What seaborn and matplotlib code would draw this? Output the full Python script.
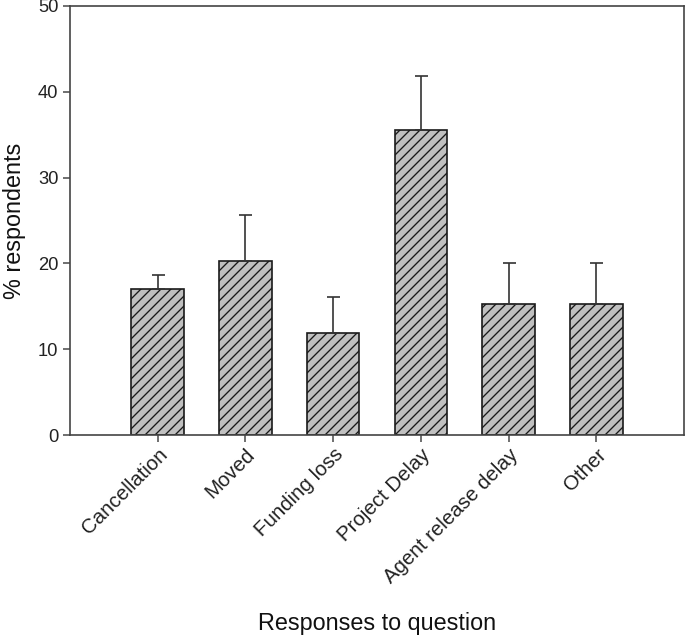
import matplotlib
matplotlib.use("Agg")
import matplotlib.pyplot as plt
import seaborn as sns
import numpy as np

categories = ["Cancellation", "Moved", "Funding loss", "Project Delay",
              "Agent release delay", "Other"]
values = [17.0, 20.3, 11.9, 35.6, 15.3, 15.3]
upper_err = [1.7, 5.3, 4.2, 6.2, 4.7, 4.7]
y_ticks = [0, 10, 20, 30, 40, 50]

sns.set_style("ticks")
plt.rcParams["font.family"] = ["Liberation Sans", "DejaVu Sans"]
plt.rcParams["hatch.linewidth"] = 0.8
plt.rcParams["hatch.color"] = "#1a1a1a"

DPI = 120
fig = plt.figure(figsize=(685 / DPI, 637 / DPI), dpi=DPI)
ax = fig.add_axes([70 / 685, 1 - 435 / 637, 614 / 685, 429 / 637])

sns.barplot(x=categories, y=values, ax=ax, color="#c0c0c0", saturation=1,
            width=0.6, edgecolor="#1a1a1a", linewidth=1.0, hatch="////",
            errorbar=None)

xpos = np.arange(len(categories))
ax.errorbar(xpos, values, yerr=[np.zeros(len(values)), upper_err],
            fmt="none", ecolor="#333333", elinewidth=1.0, capsize=3.9,
            capthick=1.0, zorder=1)

ax.set_xlim(-1, len(categories))
ax.set_ylim(0, 50)
ax.set_yticks(y_ticks)
ax.set_yticklabels([str(t) for t in y_ticks])

for s in ax.spines.values():
    s.set_color("#444444")
    s.set_linewidth(1.0)
    s.set_visible(True)

ax.tick_params(axis="y", direction="out", length=4, width=0.9,
               color="#444444", labelsize=11, labelcolor="#222222", pad=3)
ax.tick_params(axis="x", direction="out", length=4, width=0.9,
               color="#444444", labelsize=12.3, labelcolor="#222222", pad=2)
plt.setp(ax.get_xticklabels(), rotation=45, ha="right",
         rotation_mode="anchor")

ax.set_ylabel("% respondents", fontsize=14, color="#111111")
ax.yaxis.set_label_coords(-0.072, 0.5)
ax.set_xlabel("Responses to question", fontsize=14, color="#111111")
ax.xaxis.set_label_coords(0.5, -0.412)

fig.savefig("out.png", dpi=DPI)
